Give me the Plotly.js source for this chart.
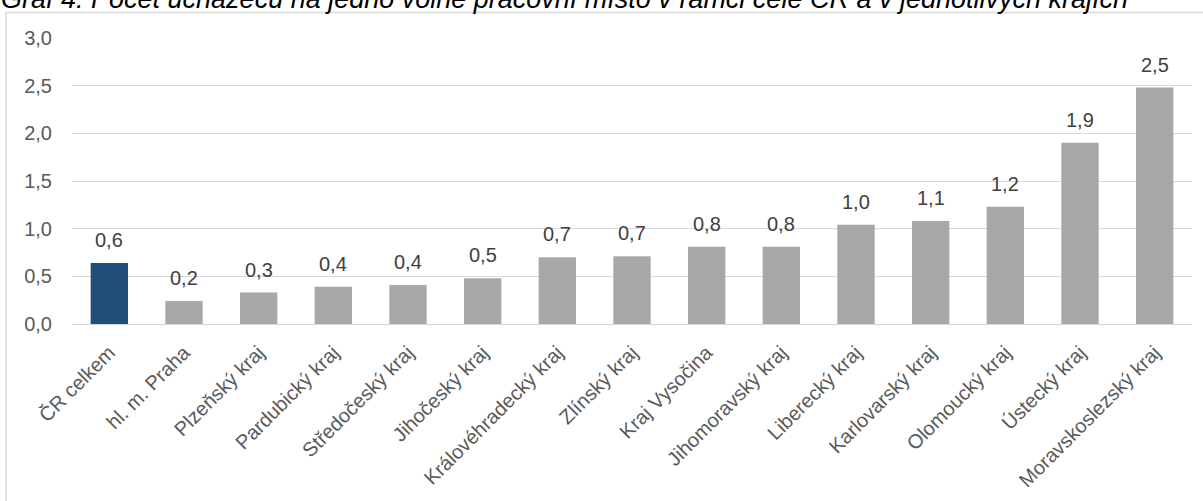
<!DOCTYPE html>
<html>
<head>
<meta charset="utf-8">
<script src="https://cdn.plot.ly/plotly-3.0.1.min.js"></script>
<style>
html,body{margin:0;padding:0;background:#fff;}
#chart{width:1203px;height:501px;}
</style>
</head>
<body>
<div id="chart"></div>
<script>
const categories = ["ČR celkem","hl. m. Praha","Plzeňský kraj","Pardubický kraj","Středočeský kraj","Jihočeský kraj","Královéhradecký kraj","Zlínský kraj","Kraj Vysočina","Jihomoravský kraj","Liberecký kraj","Karlovarský kraj","Olomoucký kraj","Ústecký kraj","Moravskoslezský kraj"];
const values = [0.64,0.24,0.33,0.39,0.41,0.48,0.70,0.71,0.81,0.81,1.04,1.08,1.23,1.90,2.48];
const labels = ["0,6","0,2","0,3","0,4","0,4","0,5","0,7","0,7","0,8","0,8","1,0","1,1","1,2","1,9","2,5"];
const yTicks = [0,0.5,1,1.5,2,2.5,3];
const yTickText = ["0,0","0,5","1,0","1,5","2,0","2,5","3,0"];
const titleText = "Graf 4: Počet uchazečů na jedno volné pracovní místo v rámci celé ČR a v jednotlivých krajích";

const colors = categories.map((c,i)=> i===0 ? "#1F4E79" : "#AAA7A7");

const trace = {
  type:"bar",
  x:categories,
  y:values,
  marker:{color:colors, line:{width:0}},
  hoverinfo:"x+y"
};

const annotations = categories.map((c,i)=>({
  x:c, y:values[i], xref:"x", yref:"y",
  text:labels[i], showarrow:false,
  yanchor:"bottom", yshift:10,
  font:{family:"Liberation Sans, Arial, sans-serif", size:20, color:"#404040"}
}));

annotations.push({
  text:titleText, showarrow:false,
  xref:"paper", yref:"paper",
  x:(0-72)/1120, xanchor:"left",
  y:(324+2)/286, yanchor:"middle",
  borderpad:0,
  font:{family:"Liberation Sans, Arial, sans-serif", size:27, color:"#000000", style:"italic"}
});

const layout = {
  width:1203, height:501,
  margin:{l:72, r:11, t:38, b:177, pad:0},
  paper_bgcolor:"#ffffff", plot_bgcolor:"#ffffff",
  font:{family:"Liberation Sans, Arial, sans-serif", size:20, color:"#595959"},
  showlegend:false,
  bargap:0.5,
  xaxis:{
    type:"category",
    tickangle:-45,
    ticks:"outside", ticklen:8, tickcolor:"rgba(0,0,0,0)",
    showgrid:false, showline:false, zeroline:false,
    tickfont:{size:20, color:"#595959"}
  },
  yaxis:{
    range:[0,3],
    tickvals:yTicks, ticktext:yTickText,
    ticks:"outside", ticklen:15, tickcolor:"rgba(0,0,0,0)",
    showgrid:true, gridcolor:"#D9D9D9", gridwidth:1,
    zeroline:true, zerolinecolor:"#D9D9D9", zerolinewidth:1,
    showline:false,
    tickfont:{size:20, color:"#595959"}
  },
  annotations:annotations,
  shapes:[{
    type:"rect", xref:"paper", yref:"paper", layer:"below",
    x0:(6-72)/1120, x1:(1260-72)/1120,
    y0:(324-560)/286, y1:(324-12.5)/286,
    line:{color:"#D9D9D9", width:1.5}, fillcolor:"rgba(0,0,0,0)"
  }]
};

Plotly.newPlot("chart",[trace],layout,{displayModeBar:false, staticPlot:true});
</script>
</body>
</html>
